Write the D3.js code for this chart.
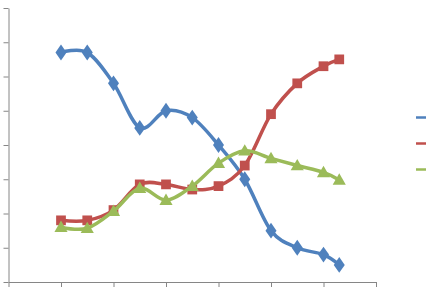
<!DOCTYPE html>
<html>
<head>
    <meta charset="utf-8">
    <title>Smoothed XY chart</title>
    <script src="https://d3js.org/d3.v7.min.js"></script>
</head>
<style>
    body {
        margin: 0;
        background: white;
    }
</style>
<body>
    <div id="chart"></div>
    <script>
        // x positions shared by the three series
        var xValues = [1, 1.5, 2, 2.5, 3, 3.5, 4, 4.5, 5, 5.5, 6, 6.3];
        var series1 = [6.7, 6.7, 5.8, 4.5, 5.0, 4.8, 4.0, 3.0, 1.5, 1.0, 0.8, 0.5];
        var series2 = [1.8, 1.8, 2.1, 2.85, 2.85, 2.7, 2.8, 3.4, 4.9, 5.8, 6.3, 6.5];
        var series3 = [1.6, 1.57, 2.07, 2.74, 2.39, 2.8, 3.47, 3.83, 3.61, 3.4, 3.2, 2.98];
        var seriesNames = ["Series1", "Series2", "Series3"];
        var xTicks = [0, 1, 2, 3, 4, 5, 6, 7];
        var yTicks = [0, 1, 2, 3, 4, 5, 6, 7, 8];

        var width = 426;
        var height = 296;
        var colors = ["#4f81bd", "#c0504d", "#9bbb59"];
        var shapes = [d3.symbolDiamond, d3.symbolSquare, d3.symbolTriangle];
        var sizes = [80, 95, 75];

        var x = d3.scaleLinear().domain([0, 7]).range([8.5, 376]);
        var y = d3.scaleLinear().domain([0, 8]).range([282, 8]);

        var svg = d3.select("#chart")
            .append("svg")
            .attr("width", width)
            .attr("height", height)
            .style("display", "block");

        svg.append("rect")
            .attr("width", width)
            .attr("height", height)
            .attr("fill", "white");

        // axes
        svg.append("g")
            .attr("transform", "translate(" + x(0) + ",0)")
            .call(d3.axisLeft(y).tickValues(yTicks).tickSize(5).tickSizeOuter(0).tickFormat(""));
        svg.append("g")
            .attr("transform", "translate(0," + y(0) + ")")
            .call(d3.axisBottom(x).tickValues(xTicks).tickSize(5).tickSizeOuter(0).tickFormat(""));
        svg.selectAll(".domain, .tick line")
            .attr("stroke", "#868686")
            .attr("stroke-width", 1);

        var line = d3.line()
            .x(function(d) { return x(d[0]); })
            .y(function(d) { return y(d[1]); })
            .curve(d3.curveCardinal.tension(0));

        [series1, series2, series3].forEach(function(values, i) {
            var pts = values.map(function(v, j) { return [xValues[j], v]; });
            var g = svg.append("g");
            g.append("path")
                .datum(pts)
                .attr("d", line)
                .attr("fill", "none")
                .attr("stroke", colors[i])
                .attr("stroke-width", 3.5);
            g.selectAll("path.marker")
                .data(pts)
                .enter().append("path")
                .attr("class", "marker")
                .attr("transform", function(d) {
                    var dy = i == 2 ? 1 : 0;
                    return "translate(" + x(d[0]) + "," + (y(d[1]) + dy) + ")" + (i == 0 ? " scale(1.15,0.95)" : "");
                })
                .attr("d", d3.symbol().type(shapes[i]).size(sizes[i]))
                .attr("fill", colors[i]);
        });

        // legend (only the line keys fit in the window)
        var legend = svg.append("g");
        seriesNames.forEach(function(name, i) {
            legend.append("line")
                .attr("x1", 416)
                .attr("x2", 440)
                .attr("y1", 117.5 + i * 26)
                .attr("y2", 117.5 + i * 26)
                .attr("stroke", colors[i])
                .attr("stroke-width", 2.5);
        });
    </script>
</body>
</html>
